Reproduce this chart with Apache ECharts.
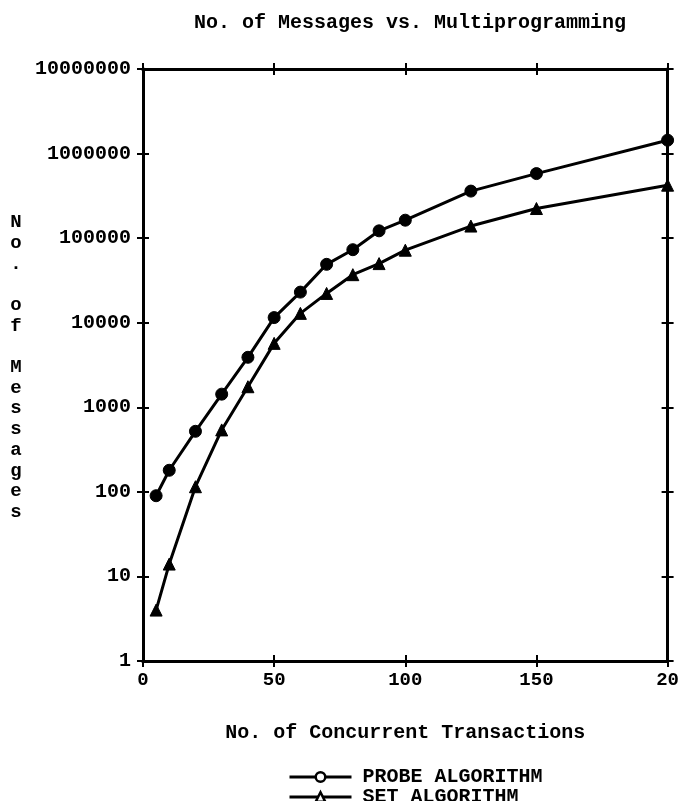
<!DOCTYPE html>
<html>
<head>
<meta charset="utf-8">
<script src="https://cdn.jsdelivr.net/npm/echarts@6/dist/echarts.min.js"></script>
<style>
html,body{margin:0;padding:0;background:#fff;}
#chart{width:682px;height:801px;}
</style>
</head>
<body>
<div id="chart"></div>
<script>
// ---- data ----
const titleText = 'No. of Messages vs. Multiprogramming';
const xAxisTitle = 'No. of Concurrent Transactions';
const yAxisTitle = 'No. of Messages';
const seriesNames = ['PROBE ALGORITHM', 'SET ALGORITHM'];
const transactions = [5, 10, 20, 30, 40, 50, 60, 70, 80, 90, 100, 125, 150, 200];
const probeMessages = [90, 180, 520, 1430, 3900, 11500, 23000, 49000, 73000, 122000, 163000, 360000, 580000, 1440000];
const setMessages = [4, 14, 115, 540, 1750, 5700, 12900, 22200, 37000, 50000, 72000, 139000, 224000, 423000];
const xTickLabels = ['0', '50', '100', '150', '20'];
const yTickLabels = ['1', '10', '100', '1000', '10000', '100000', '1000000', '10000000'];

// ---- chart ----
const FONT = 'Liberation Mono';
const chart = echarts.init(document.getElementById('chart'), null, {renderer: 'canvas'});

const xMin = 0, xMax = 200, xStep = 50;
const yMin = 1, yMax = 10000000;

function xAx(pos, inside, labels) {
  return {
    type: 'value', position: pos, min: xMin, max: xMax, interval: xStep,
    axisLine: {show: true, onZero: false, lineStyle: {color: '#000', width: 3}},
    axisTick: {show: true, inside: inside, length: 6, lineStyle: {color: '#000', width: 2}},
    splitLine: {show: false},
    axisLabel: labels ? {
      show: true, margin: 10, color: '#000', fontFamily: FONT, fontWeight: 'bold', fontSize: 19,
      formatter: v => xTickLabels[Math.round(v / xStep)]
    } : {show: false},
    name: labels ? xAxisTitle : '',
    nameLocation: 'middle', nameGap: 62,
    nameTextStyle: {color: '#000', fontFamily: FONT, fontWeight: 'bold', fontSize: 20}
  };
}
function yAx(pos, inside, labels) {
  return {
    type: 'log', logBase: 10, position: pos, min: yMin, max: yMax, interval: 1,
    axisLine: {show: true, onZero: false, lineStyle: {color: '#000', width: 3}},
    axisTick: {show: true, inside: inside, length: 6, lineStyle: {color: '#000', width: 2}},
    splitLine: {show: false},
    minorTick: {show: false},
    axisLabel: labels ? {
      show: true, margin: 12, color: '#000', fontFamily: FONT, fontWeight: 'bold', fontSize: 20,
      formatter: v => yTickLabels[Math.round(Math.log10(v))]
    } : {show: false}
  };
}

const option = {
  backgroundColor: '#fff',
  animation: false,
  title: {
    text: titleText, left: 405, top: 8, textAlign: 'center',
    textStyle: {color: '#000', fontFamily: FONT, fontWeight: 'bold', fontSize: 20}
  },
  grid: {left: 143, right: 7, top: 69, bottom: 140, containLabel: false},
  xAxis: [xAx('bottom', false, true), xAx('bottom', true, false), xAx('top', false, false), xAx('top', true, false)],
  yAxis: [yAx('left', false, true), yAx('left', true, false), yAx('right', false, false), yAx('right', true, false)],
  legend: {
    orient: 'vertical', left: 288, top: 767, height: 60, itemWidth: 62, itemHeight: 12, itemGap: 0,
    padding: 0,
    textStyle: {color: '#000', fontFamily: FONT, fontWeight: 'bold', fontSize: 20, lineHeight: 14, height: 14, padding: [0, 0, 0, 6]},
    data: [
      {name: seriesNames[0], itemStyle: {color: '#fff', borderColor: '#000', borderWidth: 2.5}, lineStyle: {color: '#000', width: 3}},
      {name: seriesNames[1], itemStyle: {color: '#fff', borderColor: '#000', borderWidth: 2.5}, lineStyle: {color: '#000', width: 3}}
    ]
  },
  graphic: [{
    type: 'text', x: 16, y: 212,
    style: {
      text: yAxisTitle.split('').join('\n'),
      fill: '#000', fontFamily: FONT, fontWeight: 'bold', fontSize: 19, lineHeight: 20.7, align: 'center'
    }
  }],
  series: [
    {
      name: seriesNames[0], type: 'line', xAxisIndex: 0, yAxisIndex: 0,
      data: transactions.map((x, i) => [x, probeMessages[i]]),
      symbol: 'circle', symbolSize: 12,
      lineStyle: {color: '#000', width: 3}, itemStyle: {color: '#000', borderColor: '#000'}
    },
    {
      name: seriesNames[1], type: 'line', xAxisIndex: 0, yAxisIndex: 0,
      data: transactions.map((x, i) => [x, setMessages[i]]),
      symbol: 'triangle', symbolSize: 12,
      lineStyle: {color: '#000', width: 3}, itemStyle: {color: '#000', borderColor: '#000'}
    }
  ]
};
chart.setOption(option);
</script>
</body>
</html>
